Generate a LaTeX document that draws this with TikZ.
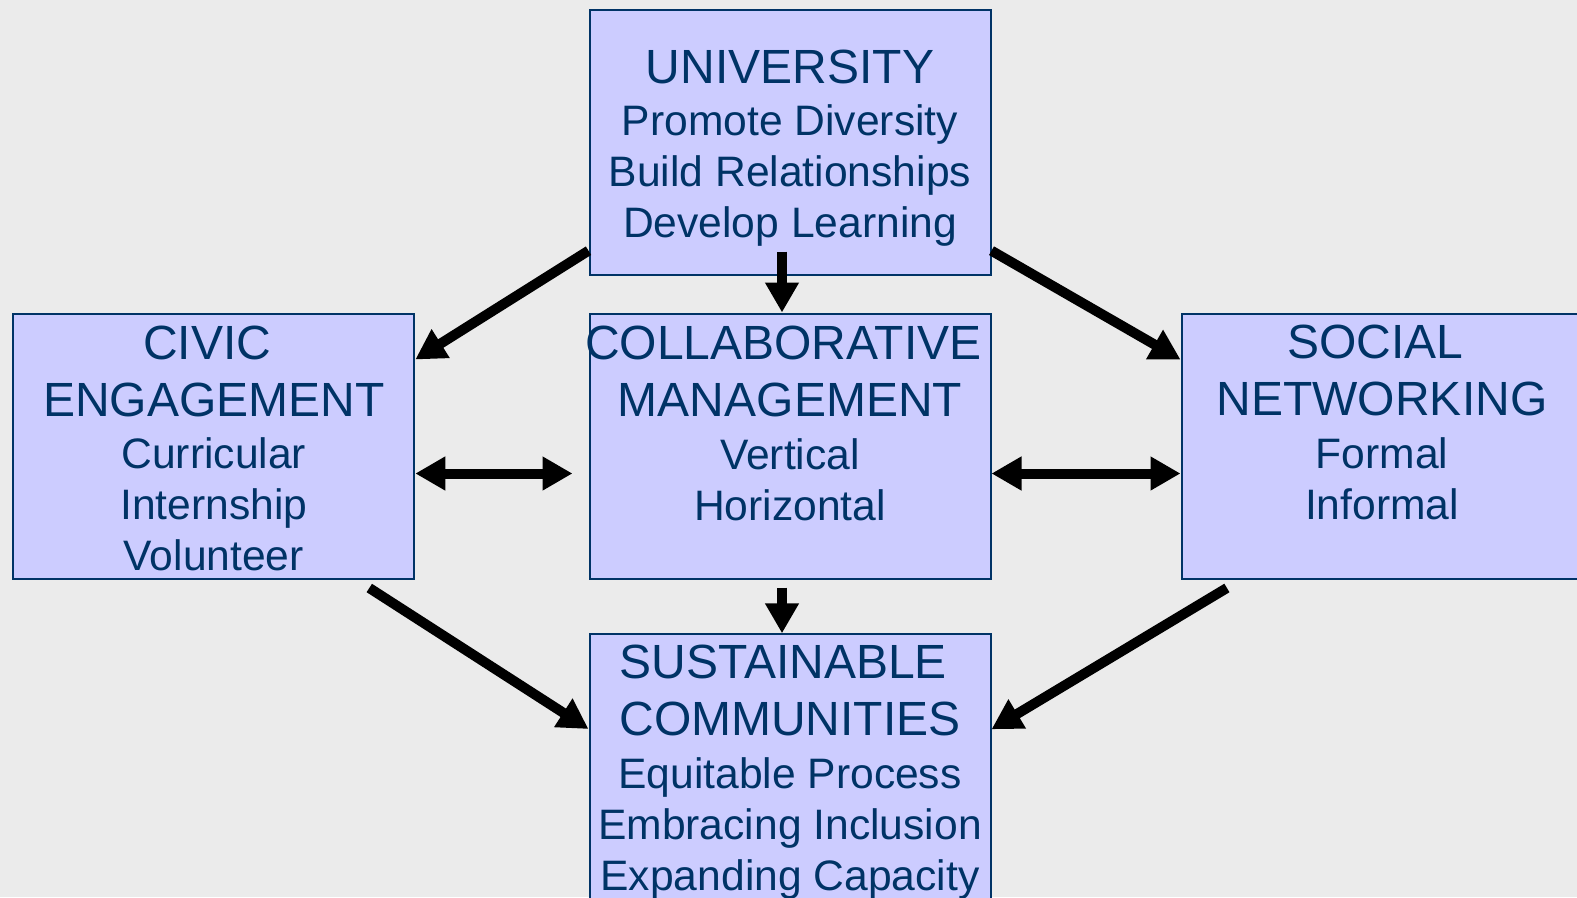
\documentclass[tikz,border=0pt]{standalone}
\usepackage{fontspec}
\setmainfont{Liberation Sans}
\usetikzlibrary{arrows.meta,calc}
\definecolor{bg}{HTML}{EBEBEB}
\definecolor{boxfill}{HTML}{CCCCFF}
\definecolor{navy}{HTML}{003366}
\begin{document}
\begin{tikzpicture}[x=1pt,y=-1pt,
  box/.style={draw=navy, line width=2pt, fill=boxfill, minimum width=401pt, minimum height=265pt, inner sep=0pt},
  ttl/.style={text=navy, font=\fontsize{48}{57}\selectfont, align=center, anchor=base, inner sep=0pt},
  sub/.style={text=navy, font=\fontsize{42.6}{51}\selectfont, align=center, anchor=base, inner sep=0pt},
  arr/.style={line width=10pt, -{Triangle[length=30pt,width=32pt]}},
  darr/.style={line width=10pt, {Triangle[length=30pt,width=32pt]}-{Triangle[length=30pt,width=32pt]}}]
\useasboundingbox (0,0) rectangle (1577,897);
\fill[bg] (0,0) rectangle (1577,897);
% boxes
\node[box] (uni) at (790,142.2) {};
\node[box] (civic) at (213.8,446) {};
\node[box] (collab) at (790,446) {};
\node[box] (social) at (1382,446) {};
\node[box, minimum height=300pt, anchor=north] (sust) at (790,633.3) {};
% texts (anchor base = baseline of the last line)
\node[ttl] (uniT) at (790,83) {UNIVERSITY};
\node[sub] (uniS) at (790,237) {Promote Diversity\\Build Relationships\\Develop Learning};
\node[ttl] (civicT) at (213.8,416) {CIVIC\hspace*{0.278em}\\ENGAGEMENT};
\node[sub] (civicS) at (213.8,570) {Curricular\\Internship\\Volunteer};
\node[ttl] (collabT) at (790,416) {COLLABORATIVE\hspace*{0.278em}\\MANAGEMENT};
\node[sub] (collabS) at (790,520) {Vertical\\Horizontal};
\node[ttl] (socialT) at (1382,415) {SOCIAL\hspace*{0.278em}\\NETWORKING};
\node[sub] (socialS) at (1382,519) {Formal\\Informal};
\node[ttl] (sustT) at (790,735) {SUSTAINABLE\hspace*{0.278em}\\COMMUNITIES};
\node[sub] (sustS) at (790,890) {Equitable Process\\Embracing Inclusion\\Expanding Capacity};
% arrows
\draw[arr] ($(uni.south west)+(0,-25)$) -- ($(civic.north east)+(0,47)$);
\draw[arr] ($(uni.south east)+(0,-25)$) -- ($(social.north west)+(0,47)$);
\draw[arr] ($(uni.south)+(-8,-24)$) -- ($(collab.north)+(-8,0)$);
\draw[arr] ($(collab.south)+(-8,8)$) -- ($(sust.north)+(-8,0)$);
\draw[arr] ($(civic.south east)+(-46,8.5)$) -- ($(sust.north west)+(0,95.7)$);
\draw[arr] ($(social.south west)+(46.4,8.5)$) -- ($(sust.north east)+(0,96)$);
\draw[darr] ($(civic.east)+(0,27.5)$) -- ($(collab.west)+(-16,27.5)$);
\draw[darr] ($(collab.east)+(0,27.5)$) -- ($(social.west)+(0,27.5)$);
\end{tikzpicture}
\end{document}
